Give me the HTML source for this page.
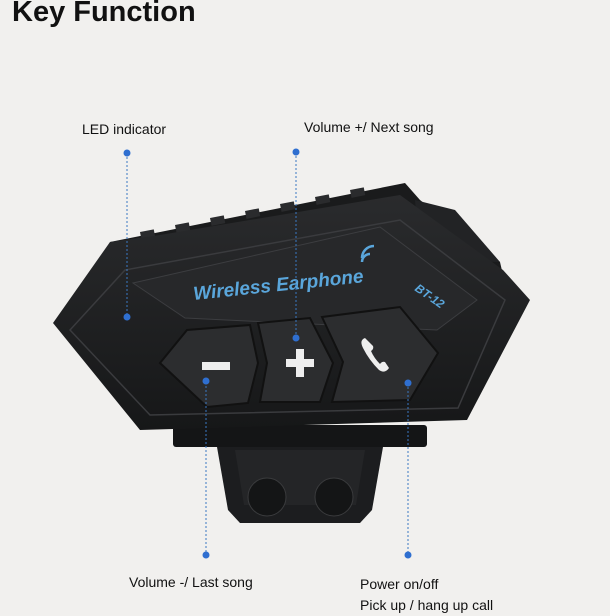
<!DOCTYPE html>
<html><head><style>
html,body{margin:0;padding:0;background:#f1f0ee;}
body{width:610px;height:610px;overflow:hidden;position:relative;font-family:"Liberation Sans",sans-serif;}
.t{position:absolute;color:#111;font-size:14px;}
</style></head><body>
<div class="t" style="left:12px;top:-4px;font-size:29px;font-weight:bold;">Key Function</div>
<svg width="610" height="610" style="position:absolute;left:0;top:0">
<defs>
<linearGradient id="g" x1="0" y1="0" x2="0" y2="1"><stop offset="0" stop-color="#2a2b2d"/><stop offset="1" stop-color="#161718"/></linearGradient>
</defs>
<path d="M217,447 L383,447 L372,510 L360,523 L240,523 L228,510 Z" fill="#1c1d1f"/>
<path d="M235,450 L365,450 L356,505 L244,505 Z" fill="#242527"/>
<circle cx="267" cy="497" r="19" fill="#141516" stroke="#3a3b3d"/>
<circle cx="334" cy="497" r="19" fill="#141516" stroke="#3a3b3d"/>
<rect x="173" y="425" width="254" height="22" rx="3" fill="#141516"/>
<path d="M110,242 L405,183 L420,200 L500,262 L503,275 L115,290 Z" fill="#1a1b1c"/>
<g fill="#2a2b2d">
<rect x="140" y="232" width="14" height="8" transform="rotate(-11 140 232)"/>
<rect x="175" y="225" width="14" height="8" transform="rotate(-11 175 225)"/>
<rect x="210" y="218" width="14" height="8" transform="rotate(-11 210 218)"/>
<rect x="245" y="211" width="14" height="8" transform="rotate(-11 245 211)"/>
<rect x="280" y="204" width="14" height="8" transform="rotate(-11 280 204)"/>
<rect x="315" y="197" width="14" height="8" transform="rotate(-11 315 197)"/>
<rect x="350" y="190" width="14" height="8" transform="rotate(-11 350 190)"/>
</g>
<path d="M415,200 L455,210 L500,262 L420,260 Z" fill="#222325"/>
<path d="M53,323 L110,242 L160,235 L400,195 L503,270 L530,300 L467,420 L140,430 Z" fill="url(#g)"/>
<path d="M70,330 L125,270 L400,220 L505,300 L458,408 L150,415 Z" fill="none" stroke="#3a3b3e" stroke-width="1.5"/>
<path d="M133,283 L380,227 L477,300 L437,330 L185,318 Z" fill="#27282a" stroke="#3c3d40"/>
<text x="194" y="300" font-family="Liberation Sans" font-weight="bold" font-style="italic" font-size="19" fill="#5aa6db" transform="rotate(-6 194 300)">Wireless Earphone</text>
<text x="414" y="290" font-family="Liberation Sans" font-weight="bold" font-style="italic" font-size="12" fill="#5aa6db" transform="rotate(35 414 290)">BT-12</text>
<path d="M362,262 a8,8 0 0 1 8,-8 M362,258 a12,12 0 0 1 12,-12" stroke="#5aa6db" stroke-width="2.5" fill="none"/>
<path d="M160,363 L187,330 L250,325 L258,363 L248,403 L207,407 Z" fill="#2c2d2f" stroke="#111" stroke-width="2"/>
<path d="M258,323 L310,318 L333,363 L320,402 L260,402 L267,363 Z" fill="#2c2d2f" stroke="#111" stroke-width="2"/>
<path d="M322,317 L400,307 L438,353 L410,400 L332,402 L343,362 Z" fill="#2c2d2f" stroke="#111" stroke-width="2"/>
<rect x="202" y="362" width="28" height="8" fill="#eee"/>
<rect x="286" y="359" width="28" height="8" fill="#eee"/>
<rect x="296" y="349" width="8" height="28" fill="#eee"/>
<path d="M365,338 q-6,2 -2,10 q6,12 16,22 q6,4 10,-2 l-4,-6 q-3,-1 -5,2 q-6,-6 -9,-13 q3,-2 2,-5 Z" fill="#eee"/>
<g stroke="#3a78c2" stroke-width="1" stroke-dasharray="2,2">
<line x1="127" y1="153" x2="127" y2="318"/>
<line x1="296" y1="152" x2="296" y2="338"/>
<line x1="206" y1="382" x2="206" y2="555"/>
<line x1="408" y1="383" x2="408" y2="555"/>
</g>
<g fill="#2f6fd0">
<circle cx="127" cy="153" r="3.5"/><circle cx="127" cy="317" r="3.5"/>
<circle cx="296" cy="152" r="3.5"/><circle cx="296" cy="338" r="3.5"/>
<circle cx="206" cy="381" r="3.5"/><circle cx="206" cy="555" r="3.5"/>
<circle cx="408" cy="383" r="3.5"/><circle cx="408" cy="555" r="3.5"/>
</g>
</svg>
<div class="t" style="left:82px;top:121px;">LED indicator</div>
<div class="t" style="left:304px;top:119px;">Volume +/ Next song</div>
<div class="t" style="left:129px;top:574px;">Volume -/ Last song</div>
<div class="t" style="left:360px;top:574px;line-height:21px;">Power on/off<br>Pick up / hang up call</div>
</body></html>
